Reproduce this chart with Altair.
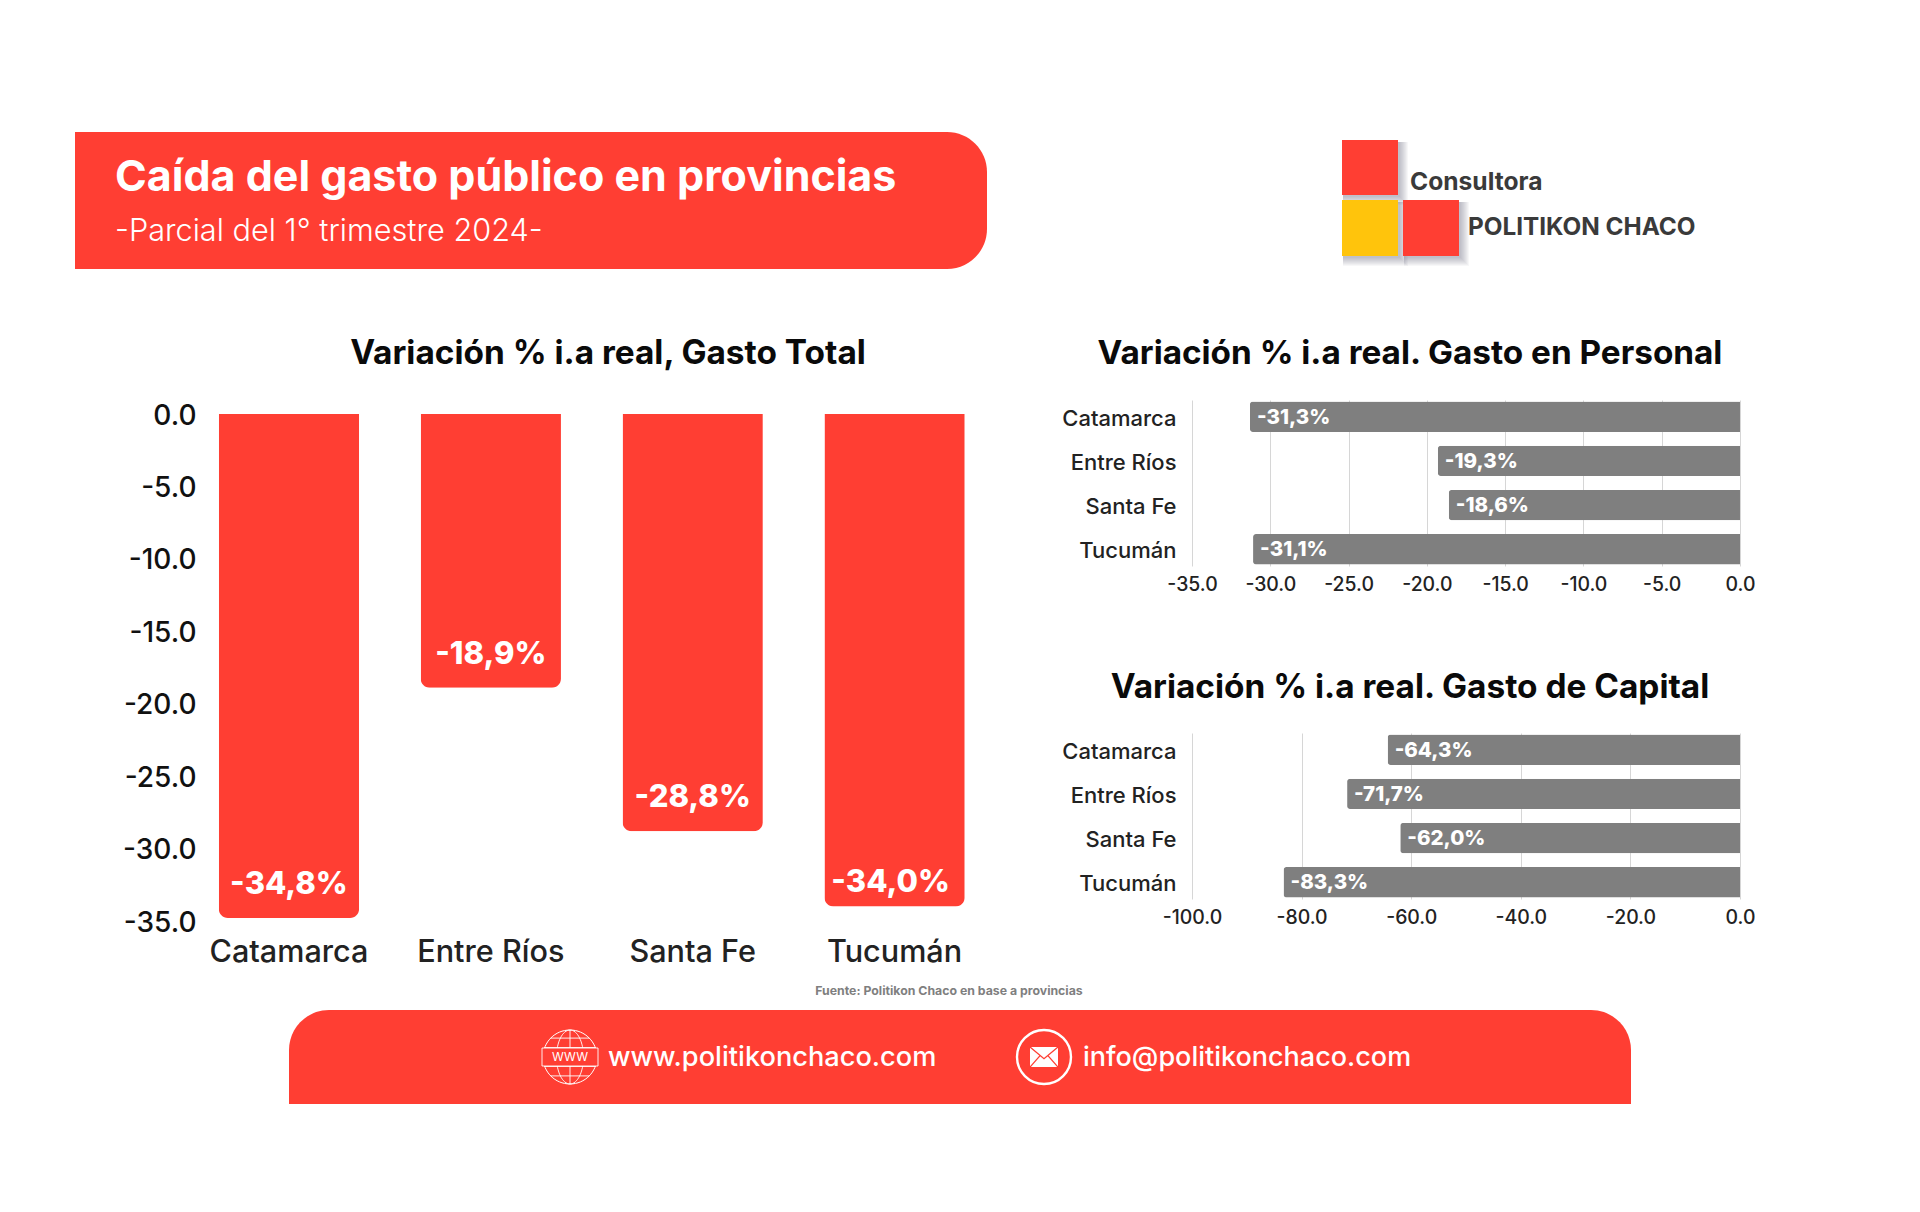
import altair as alt
import pandas as pd

# ---- data -----------------------------------------------------------
PROVINCES = ["Catamarca", "Entre Ríos", "Santa Fe", "Tucumán"]
TOTAL = [-34.8, -18.9, -28.8, -34.0]
TOTAL_LABELS = ["-34,8%", "-18,9%", "-28,8%", "-34,0%"]
PERSONAL = [-31.3, -19.3, -18.6, -31.1]
PERSONAL_LABELS = ["-31,3%", "-19,3%", "-18,6%", "-31,1%"]
CAPITAL = [-64.3, -71.7, -62.0, -83.3]
CAPITAL_LABELS = ["-64,3%", "-71,7%", "-62,0%", "-83,3%"]
TOTAL_TICKS = [-35, -30, -25, -20, -15, -10, -5, 0]
PERSONAL_TICKS = [-35, -30, -25, -20, -15, -10, -5, 0]
CAPITAL_TICKS = [-100, -80, -60, -40, -20, 0]

TITLE = "Caída del gasto público en provincias"
SUBTITLE = "-Parcial del 1° trimestre 2024-"
TITLE_TOTAL = "Variación % i.a real, Gasto Total"
TITLE_PERSONAL = "Variación % i.a real. Gasto en Personal"
TITLE_CAPITAL = "Variación % i.a real. Gasto de Capital"
SOURCE = "Fuente: Politikon Chaco en base a provincias"
WEB = "www.politikonchaco.com"
MAIL = "info@politikonchaco.com"

RED = "#ff3e33"
YELLOW = "#ffc40c"
GREY = "#7f7f7f"
FONT = "Inter"
ONE = pd.DataFrame({"k": [0]})
LABEL_EXPR = "(datum.value < 0 ? '-' : '') + format(abs(datum.value), '.1f')"


# ---- decoration helpers (page pixels; page margin is 8) ---------------
def box(x1, y1, x2, y2, color, **kw):
    return alt.Chart(ONE).mark_rect(color=color, **kw).encode(
        x=alt.value(x1 - 8), x2=alt.value(x2 - 8),
        y=alt.value(y1 - 8), y2=alt.value(y2 - 8))


def txt(s, x, y, size, color, weight=400, align="left"):
    return alt.Chart(ONE).mark_text(
        text=s, font=FONT, fontSize=size, fontWeight=weight, color=color,
        align=align, baseline="middle").encode(
        x=alt.value(x - 8), y=alt.value(y - 8))


def icon(path, x, y, radius, width=1.0, color="white"):
    return alt.Chart(ONE).mark_point(
        shape=path, size=(2 * radius) ** 2, stroke=color, strokeWidth=width,
        opacity=1, filled=False).encode(x=alt.value(x - 8), y=alt.value(y - 8))


def shadow(x1, y1, x2, y2):
    return [box(x1 + 1, y1 + 2, x2 + i + 1, y2 + i + 1, "#5a6478", opacity=0.05)
            for i in range(1, 10)]


CIRCLE = "M-1,0A1,1 0 1,1 1,0A1,1 0 1,1 -1,0Z"
GLOBE = ("M0,-1A0.5,1 0 1,1 0,1A0.5,1 0 1,1 0,-1Z M0,-1V1 "
         "M-0.72,-0.7H0.72 M-0.95,-0.35H0.95 M-0.95,0.35H0.95 M-0.72,0.7H0.72")
ENVELOPE = "M-1,-0.72L0,0.12L1,-0.72 M-1,0.72L-0.28,-0.1 M1,0.72L0.28,-0.1"

decor = []
# header banner
decor.append(box(75, 132, 987, 269, RED, cornerRadiusTopRight=40, cornerRadiusBottomRight=40))
decor.append(txt(TITLE, 115, 178, 43, "white", 700))
decor.append(txt(SUBTITLE, 115, 232, 30.7, "white", 300))
# logo
for sq in [(1342, 140, 1398, 195), (1342, 200, 1398, 256), (1403, 200, 1459, 256)]:
    decor += shadow(*sq)
decor.append(box(1342, 140, 1398, 195, RED))
decor.append(box(1342, 200, 1398, 256, YELLOW))
decor.append(box(1403, 200, 1459, 256, RED))
decor.append(txt("Consultora", 1410, 183, 24.6, "#3a3a3a", 700))
decor.append(txt("POLITIKON CHACO", 1468, 228, 24.3, "#3a3a3a", 700))
# chart titles
decor.append(txt(TITLE_TOTAL, 608, 354, 33.4, "#0a0a0a", 700, "center"))
decor.append(txt(TITLE_PERSONAL, 1410, 354, 33.3, "#0a0a0a", 700, "center"))
decor.append(txt(TITLE_CAPITAL, 1410, 688, 33.4, "#0a0a0a", 700, "center"))
# source and footer
decor.append(txt(SOURCE, 949, 991, 12.3, GREY, 700, "center"))
decor.append(box(289, 1010, 1631, 1104, RED, cornerRadiusTopLeft=40, cornerRadiusTopRight=40))
decor.append(icon(CIRCLE, 570, 1057, 27))
decor.append(icon(GLOBE, 570, 1057, 27, 0.9))
decor.append(box(542, 1048, 598, 1066, RED, stroke="white", strokeWidth=0.9))
decor.append(txt("WWW", 570, 1057, 12, "white", 400, "center"))
decor.append(txt(WEB, 608, 1058, 27.2, "white", 500))
decor.append(icon(CIRCLE, 1044, 1057, 27, 2.4))
decor.append(box(1030, 1047, 1058, 1067, "white"))
decor.append(icon(ENVELOPE, 1044, 1057, 14, 1.3, RED))
decor.append(txt(MAIL, 1083, 1058, 27, "white", 500))

panel_a = alt.layer(*decor).properties(width=1184, height=225)


def blank(w, h):
    return alt.Chart(ONE).mark_point(opacity=0).encode(
        x=alt.value(20), y=alt.value(0.5 * h)).properties(width=w, height=h)


# ---- main chart -----------------------------------------------------------
# The panel is one grid row tall (166); the scale range carries the bars further down.
df_total = pd.DataFrame({"prov": PROVINCES, "v": TOTAL, "lab": TOTAL_LABELS})
x_total = alt.X("prov:N", sort=PROVINCES, title=None,
                scale=alt.Scale(domain=PROVINCES, range=[180, 987.5],
                                paddingInner=0.305, paddingOuter=0.1525),
                axis=alt.Axis(domain=False, ticks=False, labelAngle=0, labelFont=FONT,
                              labelFontSize=30.6, labelFontWeight=500, labelColor="#222222",
                              labelPadding=16, offset=355))
y_total = alt.Y("v:Q", title=None,
                scale=alt.Scale(domain=[-35, 0], range=[521, 14], nice=False),
                axis=alt.Axis(domain=False, ticks=False, grid=False, values=TOTAL_TICKS,
                              labelExpr=LABEL_EXPR, labelFont=FONT, labelFontSize=28,
                              labelFontWeight=500, labelColor="#111111", labelPadding=0,
                              labelOffset=2, offset=-188))
base_total = alt.Chart(df_total).encode(x=x_total, y=y_total)
bars_total = base_total.mark_bar(color=RED, cornerRadiusBottomLeft=9, cornerRadiusBottomRight=9)
labs_total = base_total.transform_filter("datum.prov !== 'Tucumán'").mark_text(
    font=FONT, fontSize=31, fontWeight=800, color="white", dy=-33, baseline="middle"
).encode(text="lab:N")
labs_tuc = base_total.transform_filter("datum.prov === 'Tucumán'").mark_text(
    font=FONT, fontSize=31, fontWeight=800, color="white", dy=-24, dx=-4, baseline="middle"
).encode(text="lab:N")
left = alt.layer(bars_total, labs_total, labs_tuc).properties(width=1184, height=166)


# ---- small horizontal charts ------------------------------------------
def small(values, labels, lo, ticks):
    df = pd.DataFrame({"prov": PROVINCES, "v": values, "lab": labels})
    x = alt.X("v:Q", title=None, scale=alt.Scale(domain=[lo, 0], nice=False),
              axis=alt.Axis(domain=False, ticks=False, grid=True, gridColor="#d6d6d6",
                            gridWidth=1, values=ticks, labelExpr=LABEL_EXPR,
                            labelFont=FONT, labelFontSize=19.4, labelFontWeight=500,
                            labelColor="#222222", labelPadding=9, labelFlush=False))
    y = alt.Y("prov:N", sort=PROVINCES, title=None,
              scale=alt.Scale(domain=PROVINCES, paddingInner=0.312, paddingOuter=0.034),
              axis=alt.Axis(domain=False, ticks=False, labelFont=FONT, labelFontSize=22,
                            labelFontWeight=500, labelColor="#222222", labelPadding=16,
                            labelOffset=2))
    base = alt.Chart(df).encode(x=x, y=y)
    bars = base.mark_bar(color=GREY, cornerRadiusTopLeft=3, cornerRadiusBottomLeft=3)
    labs = base.mark_text(font=FONT, fontSize=20.5, fontWeight=800, color="white",
                          align="left", dx=7, dy=1, baseline="middle").encode(text="lab:N")
    return alt.layer(bars, labs).properties(width=548, height=166)


r1 = small(PERSONAL, PERSONAL_LABELS, -35, PERSONAL_TICKS)
r2 = small(CAPITAL, CAPITAL_LABELS, -100, CAPITAL_TICKS)

chart = alt.concat(
    panel_a, blank(548, 225),
    left, r1,
    blank(1184, 166), r2,
    columns=2, spacing={"row": 167, "column": 0}, bounds="flush",
).properties(padding=0, background="white").configure_view(stroke=None)

chart.save("out.html", embed_options={"renderer": "svg", "actions": False})
